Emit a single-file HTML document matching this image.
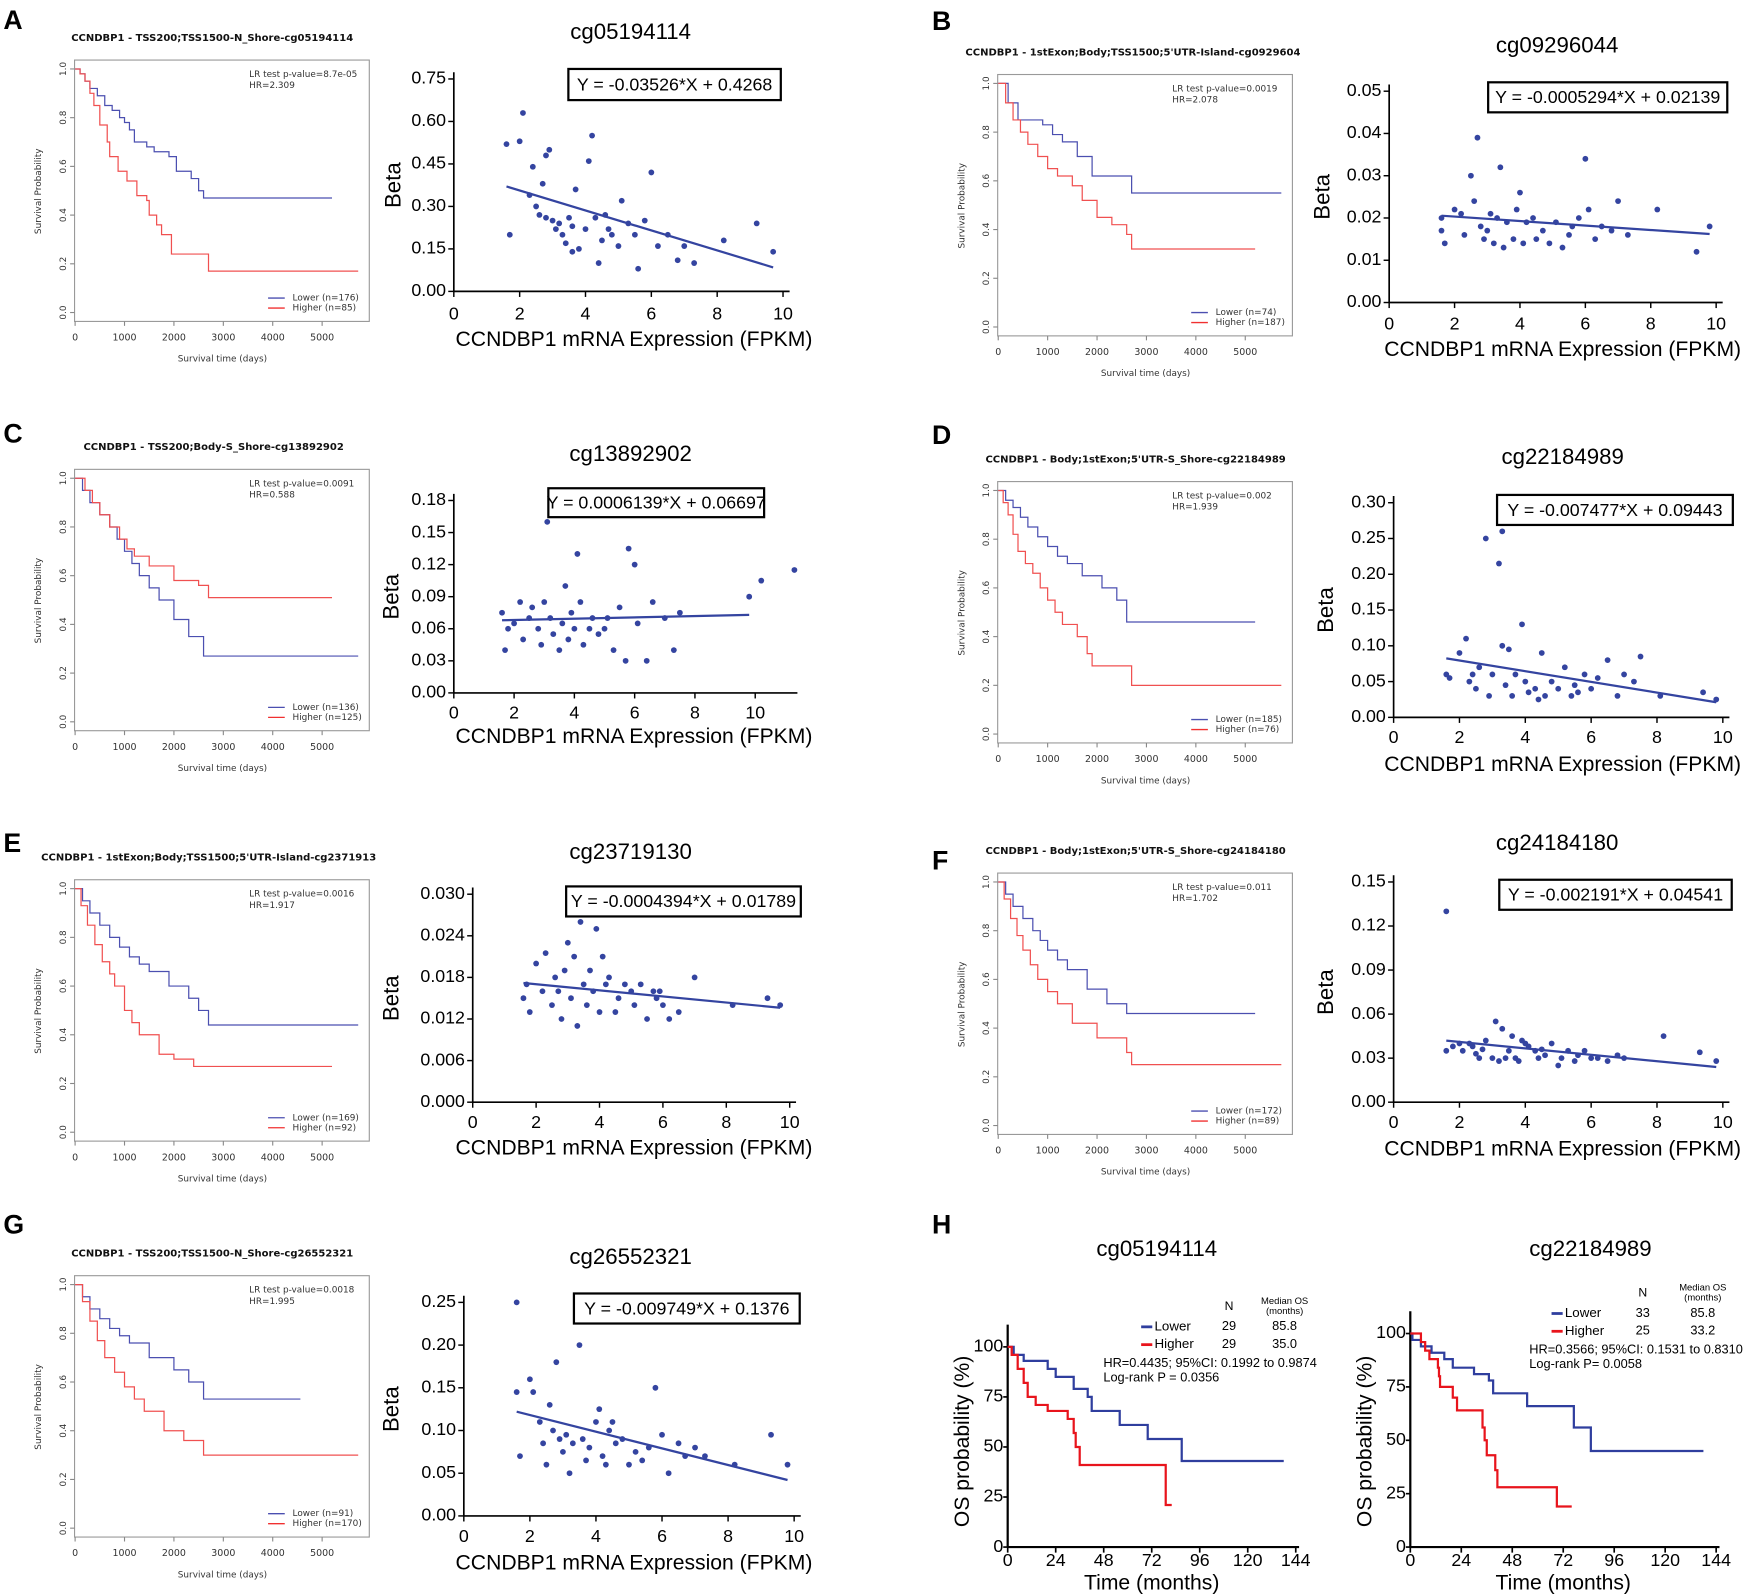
<!DOCTYPE html>
<html><head><meta charset="utf-8"><style>
html,body{margin:0;padding:0;background:#fff}
svg{display:block;font-family:"Liberation Sans",sans-serif}
.km text{font-family:"DejaVu Sans",sans-serif}
</style></head><body>
<svg id="fig" width="1744" height="1596" viewBox="0 0 1568 1435" xmlns="http://www.w3.org/2000/svg"></svg>
<script>
// ---------- KM (days) data: [time, survival] step points ----------
const kmA_lower=[[0,1],[100,0.98],[200,0.95],[300,0.92],[450,0.89],[600,0.85],[750,0.83],[900,0.8],[1000,0.78],[1100,0.75],[1200,0.7],[1450,0.68],[1600,0.66],[1900,0.64],[2050,0.58],[2350,0.55],[2500,0.5],[2600,0.47],[5200,0.47]];
const kmA_higher=[[0,1],[100,0.98],[200,0.95],[300,0.9],[380,0.85],[500,0.77],[650,0.7],[700,0.64],[870,0.58],[1050,0.54],[1250,0.48],[1450,0.46],[1500,0.4],[1650,0.36],[1750,0.32],[1950,0.24],[2700,0.17],[5730,0.17]];
const kmB_lower=[[0,1],[200,0.92],[400,0.85],[900,0.83],[1100,0.79],[1300,0.76],[1600,0.7],[1900,0.62],[2700,0.55],[5730,0.55]];
const kmB_higher=[[0,1],[150,0.92],[300,0.85],[450,0.8],[600,0.75],[800,0.7],[1000,0.65],[1200,0.62],[1500,0.58],[1700,0.52],[2000,0.45],[2300,0.42],[2600,0.38],[2700,0.32],[5200,0.32]];
const kmC_lower=[[0,1],[150,0.95],[300,0.9],[500,0.85],[700,0.8],[850,0.75],[1000,0.7],[1150,0.65],[1300,0.6],[1500,0.55],[1700,0.5],[2000,0.42],[2300,0.35],[2600,0.27],[5730,0.27]];
const kmC_higher=[[0,1],[200,0.95],[350,0.9],[500,0.85],[700,0.8],[900,0.75],[1050,0.71],[1200,0.68],[1500,0.64],[2000,0.58],[2500,0.56],[2700,0.51],[5200,0.51]];
const kmD_lower=[[0,1],[150,0.96],[300,0.93],[450,0.89],[600,0.85],[800,0.81],[1000,0.77],[1200,0.73],[1400,0.7],[1700,0.65],[2100,0.6],[2400,0.55],[2600,0.46],[5200,0.46]];
const kmD_higher=[[0,1],[100,0.95],[200,0.9],[300,0.82],[400,0.75],[550,0.7],[700,0.66],[850,0.6],[1000,0.55],[1150,0.5],[1300,0.45],[1600,0.4],[1800,0.33],[1900,0.28],[2700,0.2],[5730,0.2]];
const kmE_lower=[[0,1],[150,0.95],[300,0.9],[500,0.85],[700,0.8],[900,0.76],[1100,0.72],[1300,0.69],[1500,0.66],[1900,0.6],[2300,0.55],[2500,0.5],[2700,0.44],[5730,0.44]];
const kmE_higher=[[0,1],[120,0.93],[250,0.85],[400,0.77],[550,0.7],[700,0.65],[800,0.6],[1000,0.5],[1150,0.45],[1300,0.4],[1700,0.32],[2000,0.3],[2400,0.27],[5200,0.27]];
const kmF_lower=[[0,1],[150,0.95],[300,0.9],[500,0.85],[700,0.8],[850,0.76],[1000,0.72],[1200,0.68],[1400,0.64],[1800,0.56],[2200,0.5],[2600,0.46],[5200,0.46]];
const kmF_higher=[[0,1],[120,0.93],[250,0.85],[380,0.78],[500,0.72],[650,0.66],[800,0.6],[1000,0.55],[1200,0.5],[1500,0.42],[2000,0.36],[2600,0.3],[2700,0.25],[5730,0.25]];
const kmG_lower=[[0,1],[150,0.95],[300,0.9],[500,0.86],[700,0.82],[900,0.79],[1100,0.76],[1500,0.7],[2000,0.65],[2300,0.6],[2600,0.53],[4560,0.53]];
const kmG_higher=[[0,1],[150,0.93],[300,0.85],[450,0.77],[600,0.7],[800,0.64],[1000,0.58],[1200,0.53],[1400,0.48],[1800,0.4],[2200,0.36],[2600,0.3],[5730,0.3]];
const kmTicksX=[0,1000,2000,3000,4000,5000];
const kmTicksY=[0,0.2,0.4,0.6,0.8,1.0];

// ---------- Scatter data ----------
const scA_x=[1.6,1.7,2.0,2.1,2.4,2.5,2.6,2.7,2.8,2.8,2.9,3.0,3.1,3.2,3.3,3.4,3.5,3.6,3.7,3.8,4.0,4.1,4.2,4.3,4.4,4.5,4.6,4.7,4.8,5.0,5.1,5.3,5.5,5.6,5.8,6.0,6.2,6.5,6.8,7.0,7.3,8.2,9.2,9.7,2.3,3.6];
const scA_y=[0.52,0.20,0.53,0.63,0.44,0.30,0.27,0.38,0.26,0.48,0.50,0.25,0.22,0.24,0.20,0.17,0.26,0.14,0.36,0.15,0.22,0.46,0.55,0.26,0.10,0.18,0.27,0.22,0.20,0.16,0.32,0.24,0.20,0.08,0.25,0.42,0.16,0.20,0.11,0.16,0.10,0.18,0.24,0.14,0.34,0.23];
const scB_x=[1.6,1.7,2.0,2.2,2.3,2.5,2.6,2.7,2.8,2.9,3.0,3.1,3.2,3.3,3.4,3.5,3.6,3.8,3.9,4.0,4.1,4.2,4.4,4.5,4.7,4.9,5.1,5.3,5.5,5.6,5.8,6.0,6.1,6.3,6.5,6.8,7.0,7.3,8.2,9.4,9.8,1.6];
const scB_y=[0.017,0.014,0.022,0.021,0.016,0.030,0.024,0.039,0.018,0.015,0.017,0.021,0.014,0.020,0.032,0.013,0.019,0.015,0.022,0.026,0.014,0.019,0.020,0.015,0.017,0.014,0.019,0.013,0.016,0.018,0.020,0.034,0.022,0.015,0.018,0.017,0.024,0.016,0.022,0.012,0.018,0.020];
const scC_x=[1.6,1.7,2.0,2.2,2.3,2.5,2.6,2.8,2.9,3.0,3.1,3.2,3.3,3.5,3.6,3.7,3.8,3.9,4.0,4.1,4.2,4.3,4.5,4.6,4.8,5.0,5.1,5.3,5.5,5.7,5.8,6.0,6.1,6.4,6.6,7.0,7.3,7.5,9.8,10.2,11.3,1.8];
const scC_y=[0.075,0.04,0.065,0.085,0.05,0.07,0.08,0.06,0.045,0.085,0.16,0.07,0.055,0.04,0.065,0.10,0.05,0.075,0.06,0.13,0.085,0.045,0.06,0.07,0.055,0.06,0.07,0.04,0.08,0.03,0.135,0.12,0.065,0.03,0.085,0.07,0.04,0.075,0.09,0.105,0.115,0.06];
const scD_x=[1.6,1.7,2.0,2.2,2.3,2.5,2.6,2.8,2.9,3.0,3.2,3.3,3.4,3.5,3.6,3.7,3.9,4.0,4.1,4.3,4.5,4.6,4.8,5.0,5.2,5.4,5.6,5.8,6.0,6.2,6.5,6.8,7.0,7.3,7.5,8.1,9.4,9.8,3.3,2.4,4.4,5.5];
const scD_y=[0.06,0.055,0.09,0.11,0.05,0.04,0.07,0.25,0.03,0.06,0.215,0.26,0.045,0.095,0.03,0.06,0.13,0.05,0.035,0.04,0.09,0.03,0.05,0.04,0.07,0.03,0.035,0.06,0.04,0.055,0.08,0.03,0.06,0.05,0.085,0.03,0.035,0.025,0.1,0.06,0.025,0.045];
const scE_x=[1.6,1.7,1.8,2.0,2.2,2.3,2.5,2.6,2.8,2.9,3.0,3.1,3.2,3.3,3.4,3.5,3.6,3.7,3.8,3.9,4.0,4.2,4.3,4.5,4.6,4.8,5.0,5.1,5.3,5.5,5.7,5.8,6.0,6.2,6.5,7.0,8.2,9.3,9.7,2.7,4.1,5.9];
const scE_y=[0.015,0.017,0.013,0.020,0.016,0.0215,0.014,0.018,0.012,0.019,0.023,0.015,0.021,0.011,0.026,0.017,0.014,0.019,0.016,0.025,0.013,0.017,0.018,0.013,0.015,0.017,0.016,0.014,0.017,0.012,0.016,0.015,0.014,0.012,0.013,0.018,0.014,0.015,0.014,0.016,0.021,0.016];
const scF_x=[1.6,1.6,1.8,2.0,2.1,2.3,2.4,2.6,2.7,2.8,3.0,3.1,3.2,3.3,3.4,3.5,3.6,3.7,3.8,4.0,4.1,4.3,4.4,4.6,4.8,5.0,5.1,5.3,5.5,5.6,5.8,6.0,6.2,6.5,6.8,7.0,8.2,9.3,9.8,3.9,2.5,4.5];
const scF_y=[0.13,0.035,0.038,0.04,0.035,0.04,0.038,0.03,0.036,0.042,0.03,0.055,0.028,0.05,0.03,0.035,0.045,0.03,0.028,0.04,0.038,0.035,0.03,0.032,0.04,0.025,0.03,0.035,0.028,0.032,0.035,0.03,0.03,0.028,0.032,0.03,0.045,0.034,0.028,0.042,0.033,0.036];
const scG_x=[1.6,1.6,1.7,2.0,2.1,2.3,2.4,2.5,2.7,2.8,2.9,3.0,3.1,3.2,3.3,3.5,3.6,3.7,3.8,4.0,4.1,4.2,4.3,4.5,4.6,4.8,5.0,5.2,5.4,5.6,5.8,6.0,6.2,6.5,6.7,7.0,7.3,8.2,9.3,9.8,2.6,4.4];
const scG_y=[0.145,0.25,0.07,0.16,0.145,0.11,0.085,0.06,0.10,0.18,0.09,0.075,0.095,0.05,0.085,0.20,0.09,0.065,0.08,0.11,0.125,0.07,0.06,0.11,0.085,0.09,0.06,0.075,0.065,0.08,0.15,0.095,0.05,0.085,0.07,0.08,0.07,0.06,0.095,0.06,0.13,0.10];
const scTicksX=[0,2,4,6,8,10];
const ticksA=[0,0.15,0.30,0.45,0.60,0.75];
const ticksB=[0,0.01,0.02,0.03,0.04,0.05];
const ticksC=[0,0.03,0.06,0.09,0.12,0.15,0.18];
const ticksD=[0,0.05,0.10,0.15,0.20,0.25,0.30];
const ticksE=[0,0.006,0.012,0.018,0.024,0.030];
const ticksF=[0,0.03,0.06,0.09,0.12,0.15];
const ticksG=[0,0.05,0.10,0.15,0.20,0.25];

// ---------- OS (months) data ----------
const osL_lower=[[0,100],[3,96],[8,93],[20,89],[24,85],[33,79],[40,75],[42,68],[56,61],[70,54],[87,43],[138,43]];
const osL_higher=[[0,100],[2,96],[5,89],[8,82],[10,75],[14,71],[20,68],[30,64],[33,57],[34,50],[36,41],[79,21],[82,21]];
const osR_lower=[[0,100],[1,97],[5,94],[10,91],[16,88],[20,84],[30,81],[37,78],[39,72],[55,66],[77,56],[85,45],[138,45]];
const osR_higher=[[0,100],[5,96],[7,92],[9,88],[13,84],[13.5,80],[14,75],[20,70],[22,64],[34,56],[35,50],[36,43],[40,36],[41,28],[69,19],[76,19]];
const osTicksX=[0,24,48,72,96,120,144];
const osTicksY=[0,25,50,75,100];

const NS='http://www.w3.org/2000/svg';
const svg=document.getElementById('fig');
function mk(tag,attrs,parent){const e=document.createElementNS(NS,tag);for(const k in attrs)e.setAttribute(k,attrs[k]);(parent||svg).appendChild(e);return e;}
function txt(s,attrs,parent){const e=mk('text',attrs,parent);e.textContent=s;return e;}
function stepPath(pts,sx,sy){let d='M'+sx(pts[0][0])+','+sy(pts[0][1]);for(let i=1;i<pts.length;i++){d+=' H'+sx(pts[i][0])+' V'+sy(pts[i][1]);}return d;}

const letters=[['A',3,17],['B',838,18],['C',3,389],['D',838,390],['E',3,757],['F',838,773],['G',3,1100],['H',838,1100]];
letters.forEach(l=>{
  const t=txt(l[0],{x:l[1],y:l[2]+9,'font-size':24,'font-weight':'bold'});
  
  
});

function km(id,ox,oy,title,titleX,lower,higher,nL,nH,p,hr){
  const g=mk('g',{transform:'translate('+ox+','+oy+')',class:'km'});
  
  
  const sx=v=>67.5+v/5000*222.1, sy=v=>281-v*219;
  const t=txt(title,{x:titleX-ox,y:34,'font-size':9,'font-weight':'bold','dominant-baseline':'middle',fill:'#111'},g);
  
  
  const box=mk('rect',{x:67,y:54,width:265,height:235,fill:'none',stroke:'#999','stroke-width':1},g);
  
  
  kmTicksX.forEach(v=>{
    mk('line',{x1:sx(v),x2:sx(v),y1:289,y2:293,stroke:'#888'},g);
    const l=txt(String(v),{x:sx(v),y:304,'font-size':8.5,'text-anchor':'middle','dominant-baseline':'middle',fill:'#333'},g);
    
    
  });
  kmTicksY.forEach(v=>{
    mk('line',{x1:63,x2:67,y1:sy(v),y2:sy(v),stroke:'#888'},g);
    const l=txt(v.toFixed(1),{x:0,y:0,'font-size':8,'text-anchor':'middle','dominant-baseline':'middle',fill:'#333',transform:'translate(57,'+sy(v)+') rotate(-90)'},g);
    
    
  });
  const yl=txt('Survival Probability',{x:0,y:0,'font-size':8,'text-anchor':'middle',fill:'#333',transform:'translate(37,172) rotate(-90)'},g);
  
  
  const xl=txt('Survival time (days)',{x:200,y:323,'font-size':8,'text-anchor':'middle','dominant-baseline':'middle',fill:'#333'},g);
  
  
  const p1=txt('LR test p-value='+p,{x:224,y:67,'font-size':8,'dominant-baseline':'middle',fill:'#333'},g);
  
  
  const p2=txt('HR='+hr,{x:224,y:77,'font-size':8,'dominant-baseline':'middle',fill:'#333'},g);
  
  
  const cl=mk('path',{d:stepPath(lower,sx,sy),fill:'none',stroke:'#4b4fb0','stroke-width':1.1},g);
  
  
  const ch=mk('path',{d:stepPath(higher,sx,sy),fill:'none',stroke:'#f05050','stroke-width':1.1},g);
  
  
  mk('line',{x1:241,x2:256,y1:268,y2:268,stroke:'#4b4fb0','stroke-width':1.2},g);
  mk('line',{x1:241,x2:256,y1:277,y2:277,stroke:'#f03030','stroke-width':1.2},g);
  const le1=txt('Lower (n='+nL+')',{x:263,y:268,'font-size':8,'dominant-baseline':'middle',fill:'#333'},g);
  
  
  const le2=txt('Higher (n='+nH+')',{x:263,y:277,'font-size':8,'dominant-baseline':'middle',fill:'#333'},g);
  
  
}

km('a',0,0,'CCNDBP1 - TSS200;TSS1500-N_Shore-cg05194114',64,kmA_lower,kmA_higher,176,85,'8.7e-05','2.309');
km('b',830,13,"CCNDBP1 - 1stExon;Body;TSS1500;5'UTR-Island-cg0929604",868,kmB_lower,kmB_higher,74,187,'0.0019','2.078');
km('c',0,368,'CCNDBP1 - TSS200;Body-S_Shore-cg13892902',75,kmC_lower,kmC_higher,136,125,'0.0091','0.588');
km('d',830,379,"CCNDBP1 - Body;1stExon;5'UTR-S_Shore-cg22184989",886,kmD_lower,kmD_higher,185,76,'0.002','1.939');
km('e',0,737,"CCNDBP1 - 1stExon;Body;TSS1500;5'UTR-Island-cg2371913",37,kmE_lower,kmE_higher,169,92,'0.0016','1.917');
km('f',830,731,"CCNDBP1 - Body;1stExon;5'UTR-S_Shore-cg24184180",886,kmF_lower,kmF_higher,172,89,'0.011','1.702');
km('g',0,1093,'CCNDBP1 - TSS200;TSS1500-N_Shore-cg26552321',64,kmG_lower,kmG_higher,91,170,'0.0018','1.995');

function scatter(c){
  const g=mk('g',{});
  
  
  const ymax=c.ticks[c.ticks.length-1];
  const sx=v=>c.ax+v/10*(c.x10-c.ax), sy=v=>c.yB-v/ymax*(c.yB-c.yT);
  const ya=mk('line',{x1:c.ax,x2:c.ax,y1:c.yT-6,y2:c.yB,stroke:'#000','stroke-width':1.5},g);
  
  
  const xa=mk('line',{x1:c.ax,x2:sx(c.xmax),y1:c.yB,y2:c.yB,stroke:'#000','stroke-width':1.5},g);
  
  
  c.ticks.forEach(v=>{
    mk('line',{x1:c.ax-5,x2:c.ax,y1:sy(v),y2:sy(v),stroke:'#000','stroke-width':1.3},g);
    const l=txt(v.toFixed(c.dec),{x:c.ax-7,y:sy(v),'font-size':16,'text-anchor':'end','dominant-baseline':'middle'},g);
    
    
  });
  scTicksX.forEach(v=>{
    mk('line',{x1:sx(v),x2:sx(v),y1:c.yB,y2:c.yB+5,stroke:'#000','stroke-width':1.3},g);
    const l=txt(String(v),{x:sx(v),y:c.tickY,'font-size':16,'text-anchor':'middle','dominant-baseline':'middle'},g);
    
    
  });
  const tt=txt(c.title,{x:c.titleX,y:c.titleY,'font-size':20,'text-anchor':'middle','dominant-baseline':'middle'},g);
  
  
  const xl=txt('CCNDBP1 mRNA Expression (FPKM)',{x:c.xlabX,y:c.xlabY,'font-size':19,'text-anchor':'middle','dominant-baseline':'middle'},g);
  
  
  const bl=txt('Beta',{x:0,y:0,'font-size':20,'text-anchor':'middle','dominant-baseline':'middle',transform:'translate('+c.betaX+','+((c.yT+c.yB)/2)+') rotate(-90)'},g);
  
  
  c.xs.forEach((x,i)=>{
    const d=mk('circle',{cx:sx(x),cy:sy(c.ys[i]),r:2.6,fill:'#3444a0'},g);
    
    
  });
  const x0=Math.min(...c.xs), x1=Math.max(...c.xs.filter(v=>v<=10));
  const rl=mk('line',{x1:sx(x0),y1:sy(c.slope*x0+c.int),x2:sx(x1),y2:sy(c.slope*x1+c.int),stroke:'#3444a0','stroke-width':2},g);
  
  
  const eb=mk('rect',{x:c.box[0],y:c.box[1],width:c.box[2],height:c.box[3],fill:'#fff',stroke:'#000','stroke-width':2},g);
  
  
  const et=txt(c.eq,{x:c.box[0]+c.box[2]/2,y:c.box[1]+c.box[3]/2+1,'font-size':16,'text-anchor':'middle','dominant-baseline':'middle'},g);
  
  
}

scatter({id:'a',ax:408,x10:704,xmax:10.2,yB:262,yT:71,ticks:ticksA,dec:2,title:'cg05194114',titleX:567,titleY:30,box:[511,62,191,28],eq:'Y = -0.03526*X + 0.4268',slope:-0.03526,int:0.4268,tickY:283,xlabY:306,xlabX:570,betaX:355,xs:scA_x,ys:scA_y});
scatter({id:'b',ax:1249,x10:1543,xmax:10.2,yB:272,yT:82,ticks:ticksB,dec:2,title:'cg09296044',titleX:1400,titleY:42,box:[1338,74,215,27],eq:'Y = -0.0005294*X + 0.02139',slope:-0.0005294,int:0.02139,tickY:292,xlabY:315,xlabX:1405,betaX:1190,xs:scB_x,ys:scB_y});
scatter({id:'c',ax:408,x10:679,xmax:11.4,yB:623,yT:450,ticks:ticksC,dec:2,title:'cg13892902',titleX:567,titleY:409,box:[493,439,194,26],eq:'Y = 0.0006139*X + 0.06697',slope:0.0006139,int:0.06697,tickY:642,xlabY:663,xlabX:570,betaX:353,xs:scC_x,ys:scC_y});
scatter({id:'d',ax:1253,x10:1549,xmax:10.2,yB:645,yT:452,ticks:ticksD,dec:2,title:'cg22184989',titleX:1405,titleY:412,box:[1346,445,212,27],eq:'Y = -0.007477*X + 0.09443',slope:-0.007477,int:0.09443,tickY:664,xlabY:688,xlabX:1405,betaX:1193,xs:scD_x,ys:scD_y});
scatter({id:'e',ax:425,x10:710,xmax:10.2,yB:991,yT:804,ticks:ticksE,dec:3,title:'cg23719130',titleX:567,titleY:767,box:[509,797,211,27],eq:'Y = -0.0004394*X + 0.01789',slope:-0.0004394,int:0.01789,tickY:1010,xlabY:1033,xlabX:570,betaX:353,xs:scE_x,ys:scE_y});
scatter({id:'f',ax:1253,x10:1549,xmax:10.2,yB:991,yT:793,ticks:ticksF,dec:2,title:'cg24184180',titleX:1400,titleY:759,box:[1348,791,209,27],eq:'Y = -0.002191*X + 0.04541',slope:-0.002191,int:0.04541,tickY:1010,xlabY:1034,xlabX:1405,betaX:1193,xs:scF_x,ys:scF_y});
scatter({id:'g',ax:417,x10:714,xmax:10.2,yB:1363,yT:1171,ticks:ticksG,dec:2,title:'cg26552321',titleX:567,titleY:1131,box:[516,1163,203,27],eq:'Y = -0.009749*X + 0.1376',slope:-0.009749,int:0.1376,tickY:1382,xlabY:1406,xlabX:570,betaX:353,xs:scG_x,ys:scG_y});

function os(c){
  const g=mk('g',{});
  
  
  const sx=v=>c.ax+v/144*(c.x144-c.ax), sy=v=>c.y0-v/100*(c.y0-c.y100);
  const ya=mk('line',{x1:c.ax,x2:c.ax,y1:c.y100-20,y2:c.y0,stroke:'#000','stroke-width':2},g);
  
  
  const xa=mk('line',{x1:c.ax,x2:c.x144+3,y1:c.y0,y2:c.y0,stroke:'#000','stroke-width':2},g);
  
  
  osTicksY.forEach(v=>{
    mk('line',{x1:c.ax-4,x2:c.ax,y1:sy(v),y2:sy(v),stroke:'#000','stroke-width':1.5},g);
    const l=txt(String(v),{x:c.ax-4,y:sy(v),'font-size':16,'text-anchor':'end','dominant-baseline':'middle'},g);
    
    
  });
  osTicksX.forEach(v=>{
    mk('line',{x1:sx(v),x2:sx(v),y1:c.y0,y2:c.y0+5,stroke:'#000','stroke-width':1.5},g);
    const l=txt(String(v),{x:sx(v),y:c.y0+13,'font-size':16,'text-anchor':'middle','dominant-baseline':'middle'},g);
    
    
  });
  const tt=txt(c.title,{x:c.titleX,y:1124,'font-size':20,'text-anchor':'middle','dominant-baseline':'middle'},g);
  
  
  const xl=txt('Time (months)',{x:(c.ax+c.x144)/2,y:c.y0+33,'font-size':19,'text-anchor':'middle','dominant-baseline':'middle'},g);
  
  
  const yl=txt('OS probability (%)',{x:0,y:0,'font-size':19,'text-anchor':'middle','dominant-baseline':'middle',transform:'translate('+(c.ax-40)+','+(c.y0-95)+') rotate(-90)'},g);
  
  
  const pl=mk('path',{d:stepPath(c.lower,sx,sy),fill:'none',stroke:'#2f3e9e','stroke-width':2},g);
  
  
  const ph=mk('path',{d:stepPath(c.higher,sx,sy),fill:'none',stroke:'#e8141c','stroke-width':2},g);
  
  
  const L=c.leg;
  const h1=txt('N',{x:L.nx,y:L.y1-18,'font-size':11,'text-anchor':'middle','dominant-baseline':'middle'},g);
  
  
  const h2=txt('Median OS',{x:L.mx,y:L.y1-23,'font-size':8.5,'text-anchor':'middle','dominant-baseline':'middle'},g);
  
  
  const h3=txt('(months)',{x:L.mx,y:L.y1-14,'font-size':8.5,'text-anchor':'middle','dominant-baseline':'middle'},g);
  
  
  [[L.y1,'#2f3e9e','Lower',c.nL,c.mL],[L.y1+16,'#e8141c','Higher',c.nH,c.mH]].forEach(r=>{
    mk('line',{x1:L.lx-12,x2:L.lx-2,y1:r[0],y2:r[0],stroke:r[1],'stroke-width':2.5},g);
    const a=txt(r[2],{x:L.lx,y:r[0],'font-size':12,'dominant-baseline':'middle'},g);
    
    
    const b=txt(String(r[3]),{x:L.nx,y:r[0],'font-size':11.5,'text-anchor':'middle','dominant-baseline':'middle'},g);
    
    
    const m=txt(r[4],{x:L.mx,y:r[0],'font-size':11.5,'text-anchor':'middle','dominant-baseline':'middle'},g);
    
    
  });
  const s1=txt(c.hr,{x:L.hx,y:L.y1+33,'font-size':11.5,'dominant-baseline':'middle'},g);
  
  
  const s2=txt(c.lr,{x:L.hx,y:L.y1+46,'font-size':11.5,'dominant-baseline':'middle'},g);
  
  
}

os({id:'cg05194114',ax:906,x144:1165,y100:1211,y0:1391,title:'cg05194114',titleX:1040,lower:osL_lower,higher:osL_higher,nL:29,nH:29,mL:'85.8',mH:'35.0',hr:'HR=0.4435; 95%CI: 0.1992 to 0.9874',lr:'Log-rank   P = 0.0356',leg:{lx:1038,nx:1105,mx:1155,y1:1193,hx:992}});
os({id:'cg22184989',ax:1268,x144:1543,y100:1199,y0:1391,title:'cg22184989',titleX:1430,lower:osR_lower,higher:osR_higher,nL:33,nH:25,mL:'85.8',mH:'33.2',hr:'HR=0.3566; 95%CI: 0.1531 to 0.8310',lr:'Log-rank  P= 0.0058',leg:{lx:1407,nx:1477,mx:1531,y1:1181,hx:1375}});
</script>
</body></html>
